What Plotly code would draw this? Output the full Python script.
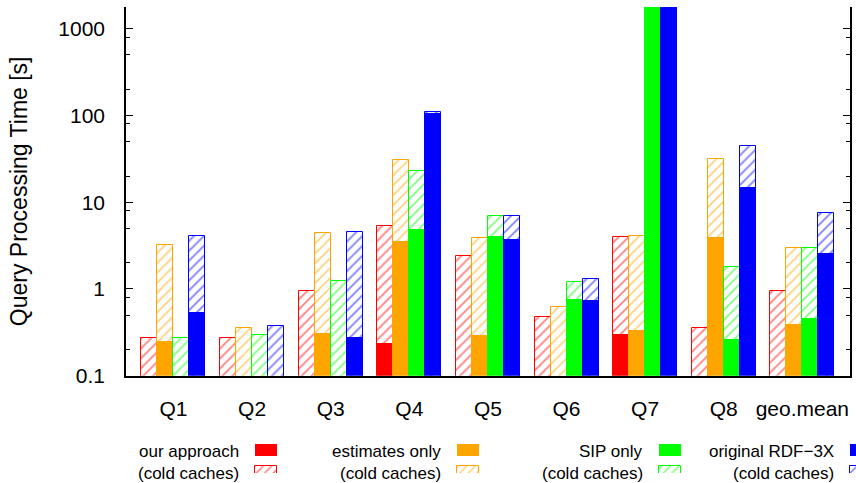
import plotly.graph_objects as go

categories = ["Q1", "Q2", "Q3", "Q4", "Q5", "Q6", "Q7", "Q8", "geo.mean"]

# warm-cache (solid) and cold-cache (hatched) query times in seconds
ours_warm = [None, None, None, 0.237, None, None, 0.303, None, None]
ours_cold = [0.27, 0.27, 0.957, 5.33, 2.41, 0.472, 3.95, 0.358, 0.948]
est_warm = [0.25, None, 0.311, 3.58, 0.295, None, 0.336, 3.98, 0.398]
est_cold = [3.22, 0.358, 4.4, 30.3, 3.91, 0.615, 4.09, 31.4, 2.95]
sip_warm = [None, None, None, 4.93, 4.09, 0.773, 2000, 0.265, 0.463]
sip_cold = [0.27, 0.295, 1.24, 23.0, 6.9, 1.21, 2000, 1.78, 2.97]
rdf_warm = [0.54, None, 0.282, 108, 3.78, 0.746, 2000, 15.0, 2.6]
rdf_cold = [4.09, 0.371, 4.51, 111, 6.85, 1.29, 2000, 44.4, 7.48]

series_names = ["our approach", "estimates only", "SIP only", "original RDF\u22123X"]
cold_label = "(cold caches)"
y_tickvals = [0.1, 1, 10, 100, 1000]
y_ticktext = ["0.1", "1", "10", "100", "1000"]

colors = ["#ff0000", "#ffa500", "#00ff00", "#0000ff"]
warm = [ours_warm, est_warm, sip_warm, rdf_warm]
cold = [ours_cold, est_cold, sip_cold, rdf_cold]

FONT = "Liberation Sans, Arial, Helvetica, sans-serif"
W, H = 856, 483
ML, MR, MT, MB = 126, 0, 7, 10
BW = 0.2036
xpos = list(range(len(categories)))

fig = go.Figure()
for i, c in enumerate(colors):
    off = (i - 2) * BW
    fig.add_trace(go.Bar(
        x=xpos, y=cold[i], width=BW, offset=off,
        marker=dict(color="white", line=dict(color=c, width=1),
                    pattern=dict(shape="/", fgcolor=c, bgcolor="white",
                                 size=7, solidity=0.25, fillmode="overlay")),
        showlegend=False, xaxis="x", yaxis="y"))
    fig.add_trace(go.Bar(
        x=xpos, y=warm[i], width=BW, offset=off,
        marker=dict(color=c, line=dict(color=c, width=0)),
        showlegend=False, xaxis="x", yaxis="y"))

# pixel geometry helpers
plot_w = W - ML - MR
plot_h = H - MT - MB
right_px = 849.5
main_bottom_px = 375.7
x_dom1 = (right_px - ML) / plot_w
y_dom0 = (MT + plot_h - main_bottom_px) / plot_h
leg_top_px = 425
leg_bot_px = MT + plot_h
leg_dom1 = (MT + plot_h - leg_top_px) / plot_h

box_left = [255, 457, 659, 850]
box_w, box_h = 22, 12
row_top = [443.5, 465.5]
for i, c in enumerate(colors):
    fig.add_trace(go.Bar(
        x=[box_left[i] + box_w / 2], y=[box_h], base=[row_top[0]], width=box_w,
        marker=dict(color=c, line=dict(color=c, width=0)),
        showlegend=False, xaxis="x4", yaxis="y4", hoverinfo="skip"))
    fig.add_trace(go.Bar(
        x=[box_left[i] + box_w / 2], y=[box_h], base=[row_top[1]], width=box_w,
        marker=dict(color="white", line=dict(color=c, width=1),
                    pattern=dict(shape="/", fgcolor=c, bgcolor="white",
                                 size=6, solidity=0.25, fillmode="overlay")),
        showlegend=False, xaxis="x4", yaxis="y4", hoverinfo="skip"))
    fig.add_annotation(x=box_left[i] - 14, y=row_top[0] + box_h / 2 + 1.5, xref="x4", yref="y4",
                       text=series_names[i], showarrow=False, xanchor="right", yanchor="middle",
                       font=dict(family=FONT, size=17, color="black"))
    fig.add_annotation(x=box_left[i] - 14, y=row_top[1] + box_h / 2 + 1.5, xref="x4", yref="y4",
                       text=cold_label, showarrow=False, xanchor="right", yanchor="middle",
                       font=dict(family=FONT, size=17, color="black"))

minor_vals = []
for e in range(-1, 4):
    for m in (0.2, 0.5, 0.8):
        v = m * 10 ** e
        if 0.1 < v < 1778:
            minor_vals.append(v)

xr = [-0.604, 8.60]
fig.update_layout(
    width=W, height=H, margin=dict(l=ML, r=MR, t=MT, b=MB),
    paper_bgcolor="white", plot_bgcolor="white",
    barmode="overlay", bargap=0,
    font=dict(family=FONT, size=21, color="black"),
    xaxis=dict(domain=[0, x_dom1], anchor="y", range=xr, tickmode="array", tickvals=xpos,
               ticktext=categories, ticks="", showline=True, linecolor="black", linewidth=1.5,
               showgrid=False, zeroline=False, ticklabelstandoff=13,
               tickfont=dict(size=21)),
    xaxis2=dict(domain=[0, x_dom1], overlaying="x", side="top", anchor="y", range=xr,
                tickmode="array", tickvals=xpos, ticks="inside", ticklen=7, tickcolor="black",
                tickwidth=1, showticklabels=False, showline=True, linecolor="black",
                linewidth=1.5, showgrid=False, zeroline=False),
    yaxis=dict(domain=[y_dom0, 1], anchor="x", type="log", range=[-1, 3.25],
               tickmode="array", tickvals=y_tickvals, ticktext=y_ticktext,
               ticks="inside", ticklen=7, tickcolor="black", tickwidth=1,
               minor=dict(tickmode="array", tickvals=minor_vals, ticks="inside", ticklen=4,
                          tickcolor="black", tickwidth=1, showgrid=False),
               showline=True, linecolor="black", linewidth=1.5, mirror="ticks",
               showgrid=False, zeroline=False, ticklabelstandoff=15,
               tickfont=dict(size=21),
               title=dict(text="Query Processing Time [s]", font=dict(size=23), standoff=24)),
    xaxis4=dict(domain=[0, 1], anchor="y4", range=[ML, W - MR], visible=False, fixedrange=True),
    yaxis4=dict(domain=[0, leg_dom1], anchor="x4", range=[leg_bot_px, leg_top_px],
                visible=False, fixedrange=True),
    showlegend=False,
)

fig.write_html("out.html", config={"displayModeBar": False},
               post_script="document.body.style.margin='0';")
